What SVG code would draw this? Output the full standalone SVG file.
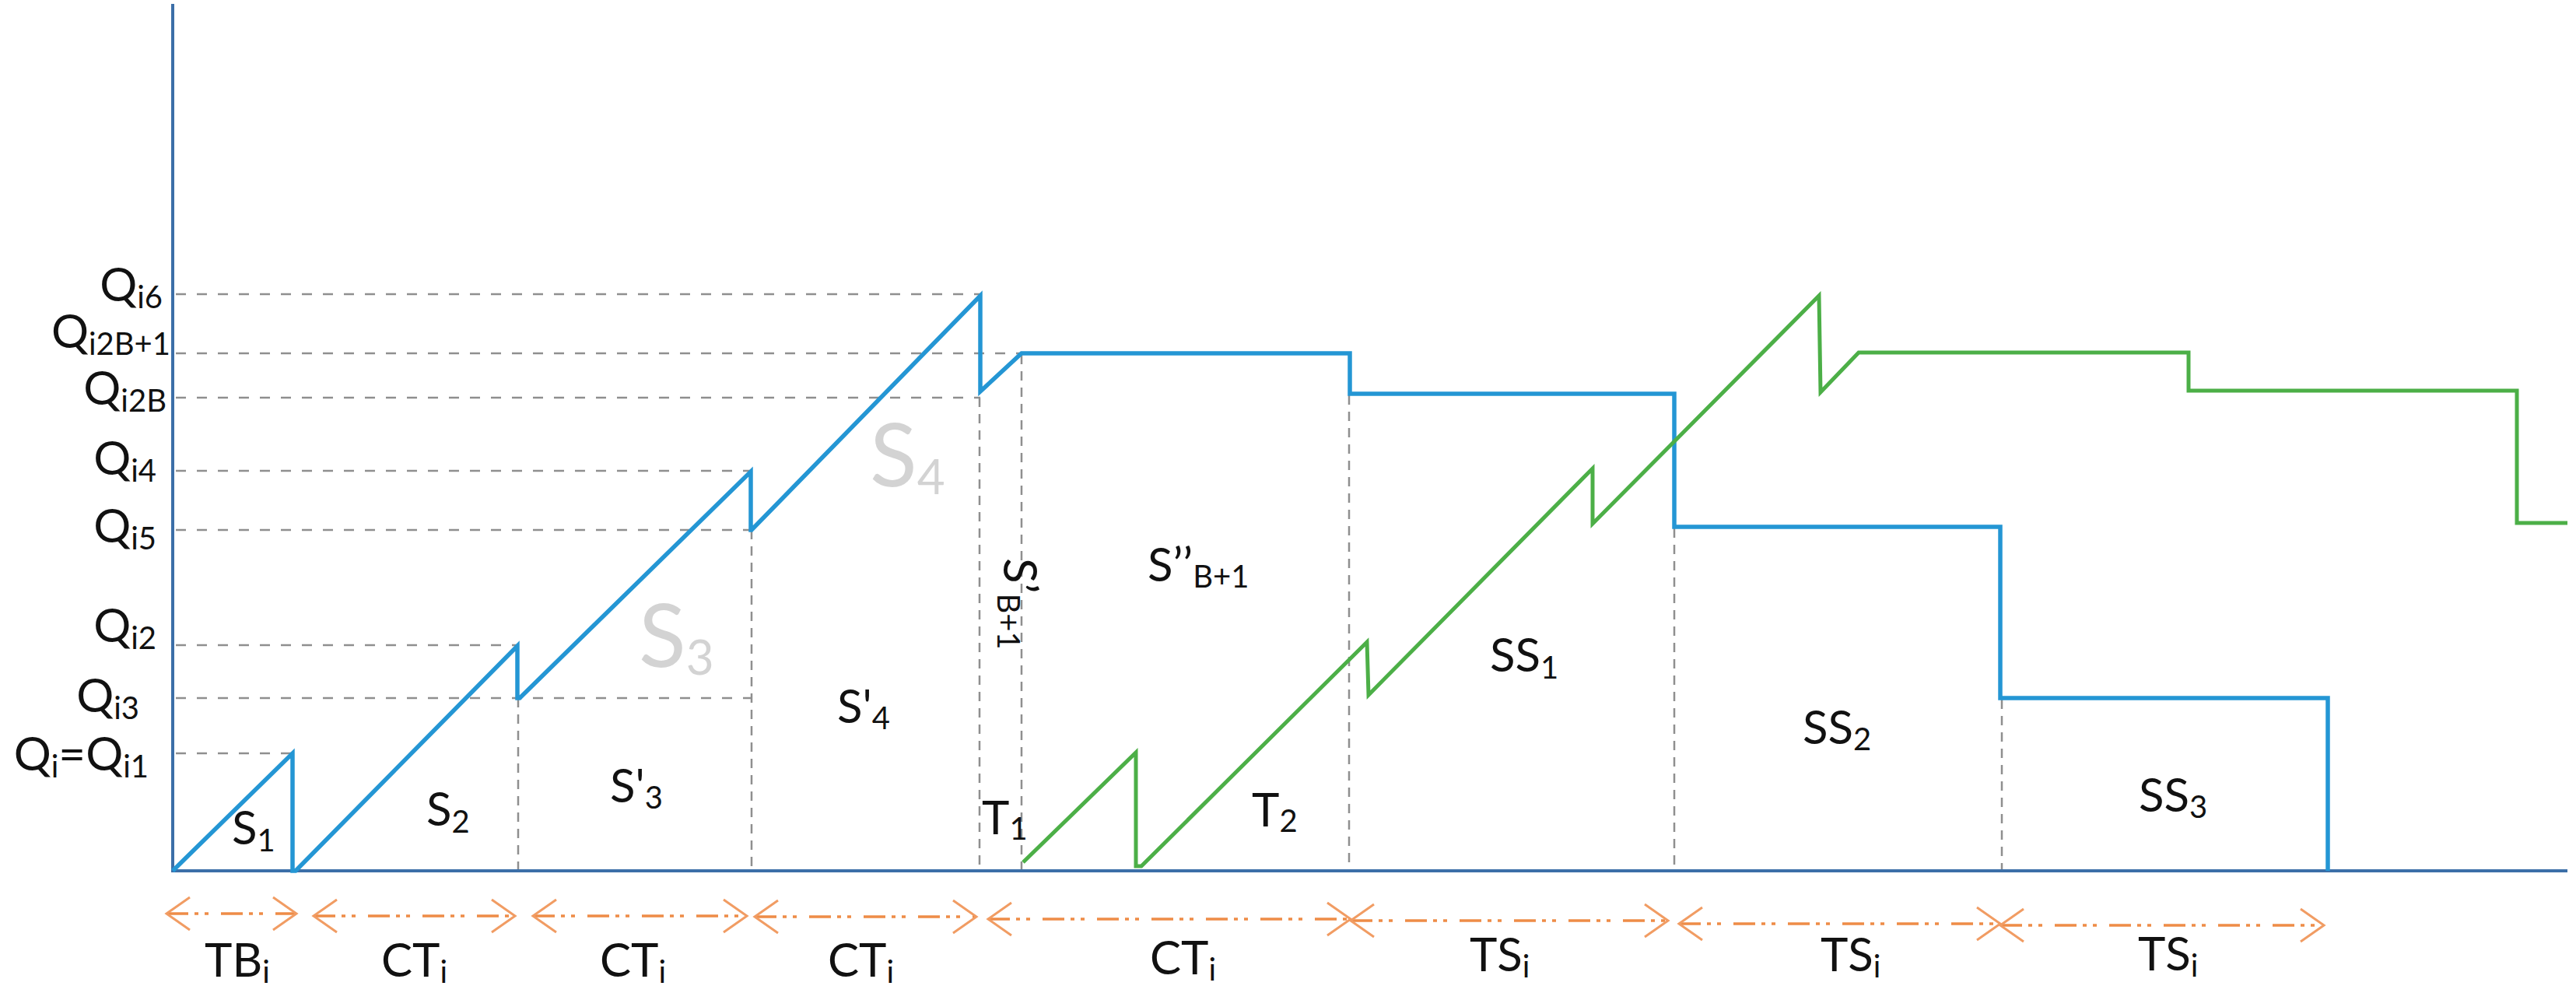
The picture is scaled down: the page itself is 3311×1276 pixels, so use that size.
<svg xmlns="http://www.w3.org/2000/svg" width="3311" height="1276" viewBox="0 0 3311 1276">
<style>
.bg{fill:#ffffff}
.axis{stroke:#3c6fa8;stroke-width:4;fill:none}
.guide{stroke:#8f8f8f;stroke-width:2.5;stroke-dasharray:13 14;fill:none}
.vguide{stroke:#8f8f8f;stroke-width:2.5;stroke-dasharray:12 9;fill:none}
.blue{stroke:#2496d4;stroke-width:5.5;fill:none;stroke-linejoin:miter}
.green{stroke:#4caf47;stroke-width:5;fill:none;stroke-linejoin:miter}
.span{stroke:#ee8c47;stroke-width:3.5;stroke-dasharray:28 8 5 8 5 16;fill:none}
.lbl{font-family:Lato,"Liberation Sans",sans-serif;font-size:60px;fill:#111111}
.sub{font-size:40px}
.big{font-family:Lato,"Liberation Sans",sans-serif;font-size:112px;fill:#d3d3d3}
.bigsub{font-size:62px}
</style>
<defs>
<marker id="head" markerUnits="userSpaceOnUse" markerWidth="40" markerHeight="50" viewBox="-34 -25 38 50" refX="0" refY="0" orient="auto-start-reverse">
<path d="M-30,-21 L0,0 L-30,21" fill="none" stroke="#f19c63" stroke-width="3" stroke-dasharray="none"/>
</marker>
</defs>
<rect class="bg" x="0" y="0" width="3311" height="1276"/>

<g id="guides">
<line class="guide" x1="226" y1="378" x2="1260" y2="378"/>
<line class="guide" x1="226" y1="454" x2="1313" y2="454"/>
<line class="guide" x1="226" y1="511" x2="1260" y2="511"/>
<line class="guide" x1="226" y1="605" x2="965" y2="605"/>
<line class="guide" x1="226" y1="681" x2="965" y2="681"/>
<line class="guide" x1="226" y1="829" x2="665" y2="829"/>
<line class="guide" x1="226" y1="897" x2="966" y2="897"/>
<line class="guide" x1="226" y1="968" x2="376" y2="968"/>
<line class="vguide" x1="666" y1="897" x2="666" y2="1117"/>
<line class="vguide" x1="966" y1="681" x2="966" y2="1117"/>
<line class="vguide" x1="1259" y1="511" x2="1259" y2="1117"/>
<line class="vguide" x1="1313" y1="456" x2="1313" y2="1117"/>
<line class="vguide" x1="1734" y1="508" x2="1734" y2="1117"/>
<line class="vguide" x1="2152" y1="679" x2="2152" y2="1117"/>
<line class="vguide" x1="2573" y1="899" x2="2573" y2="1117"/>
</g>

<g id="axes">
<line class="axis" x1="222" y1="5" x2="222" y2="1121"/>
<line class="axis" x1="220" y1="1119" x2="3300" y2="1119"/>
</g>

<g id="curves">
<path id="blue-curve" class="blue" d="M222,1119 L376,968 L376,1119 L380,1119 L665,830 L665,897 L668,897 L965,606 L965,681 L966,681 L1260,380 L1260,503 L1313,454 L1735,454 L1735,506 L2152,506 L2152,677 L2571,677 L2571,897 L2992,897 L2992,1119"/>
<path id="green-curve" class="green" d="M1315,1108 L1460,967 L1460,1113 L1467,1113 L1757,825 L1759,893 L2047,602 L2047,673 L2338,380 L2340,504 L2389,453 L2813,453 L2813,502 L3235,502 L3235,672 L3300,672"/>
</g>

<g id="connectors">
<line class="span" x1="214" y1="1174" x2="381" y2="1174" marker-start="url(#head)" marker-end="url(#head)"/>
<line class="span" x1="403" y1="1177" x2="662" y2="1177" marker-start="url(#head)" marker-end="url(#head)"/>
<line class="span" x1="685" y1="1177" x2="960" y2="1177" marker-start="url(#head)" marker-end="url(#head)"/>
<line class="span" x1="970" y1="1178" x2="1255" y2="1178" marker-start="url(#head)" marker-end="url(#head)"/>
<line class="span" x1="1270" y1="1181" x2="1736" y2="1181" marker-start="url(#head)" marker-end="url(#head)"/>
<line class="span" x1="1736" y1="1183" x2="2144" y2="1183" marker-start="url(#head)" marker-end="url(#head)"/>
<line class="span" x1="2158" y1="1187" x2="2571" y2="1187" marker-start="url(#head)" marker-end="url(#head)"/>
<line class="span" x1="2571" y1="1189" x2="2987" y2="1189" marker-start="url(#head)" marker-end="url(#head)"/>
</g>

<g id="y-labels">
<text class="lbl" x="209" y="387" text-anchor="end">Q<tspan class="sub" dy="9">i6</tspan></text>
<text class="lbl" x="219" y="447" text-anchor="end">Q<tspan class="sub" dy="9">i2B+1</tspan></text>
<text class="lbl" x="214" y="520" text-anchor="end">Q<tspan class="sub" dy="9">i2B</tspan></text>
<text class="lbl" x="201" y="610" text-anchor="end">Q<tspan class="sub" dy="9">i4</tspan></text>
<text class="lbl" x="201" y="697" text-anchor="end">Q<tspan class="sub" dy="9">i5</tspan></text>
<text class="lbl" x="201" y="825" text-anchor="end">Q<tspan class="sub" dy="9">i2</tspan></text>
<text class="lbl" x="179" y="915" text-anchor="end">Q<tspan class="sub" dy="9">i3</tspan></text>
<text class="lbl" x="191" y="990" text-anchor="end">Q<tspan class="sub" dy="9">i</tspan><tspan dy="-9">=Q</tspan><tspan class="sub" dy="9">i1</tspan></text>
</g>

<g id="area-labels">
<text class="lbl" x="298" y="1085">S<tspan class="sub" dy="9">1</tspan></text>
<text class="lbl" x="548" y="1061">S<tspan class="sub" dy="9">2</tspan></text>
<text class="lbl" x="784" y="1031">S'<tspan class="sub" dy="8">3</tspan></text>
<text class="lbl" x="1076" y="929">S'<tspan class="sub" dy="8">4</tspan></text>
<text class="big" x="821" y="857">S<tspan class="bigsub" dy="10">3</tspan></text>
<text class="big" x="1118" y="625">S<tspan class="bigsub" dy="10">4</tspan></text>
<text class="lbl" x="1290" y="717" transform="rotate(90 1290 717)">S’<tspan class="sub" dy="8">B+1</tspan></text>
<text class="lbl" x="1475" y="747">S’’<tspan class="sub" dy="8">B+1</tspan></text>
<text class="lbl" x="1262" y="1072">T<tspan class="sub" dy="7">1</tspan></text>
<text class="lbl" x="1609" y="1062">T<tspan class="sub" dy="7">2</tspan></text>
<text class="lbl" x="1915" y="863">SS<tspan class="sub" dy="9">1</tspan></text>
<text class="lbl" x="2317" y="956">SS<tspan class="sub" dy="8">2</tspan></text>
<text class="lbl" x="2749" y="1043">SS<tspan class="sub" dy="8">3</tspan></text>
</g>

<g id="span-labels">
<text class="lbl" x="263" y="1255">TB<tspan class="sub" dy="8">i</tspan></text>
<text class="lbl" x="490" y="1255">CT<tspan class="sub" dy="8">i</tspan></text>
<text class="lbl" x="771" y="1255">CT<tspan class="sub" dy="8">i</tspan></text>
<text class="lbl" x="1064" y="1255">CT<tspan class="sub" dy="8">i</tspan></text>
<text class="lbl" x="1478" y="1252">CT<tspan class="sub" dy="8">i</tspan></text>
<text class="lbl" x="1889" y="1248">TS<tspan class="sub" dy="8">i</tspan></text>
<text class="lbl" x="2340" y="1248">TS<tspan class="sub" dy="8">i</tspan></text>
<text class="lbl" x="2748" y="1247">TS<tspan class="sub" dy="8">i</tspan></text>
</g>
</svg>
